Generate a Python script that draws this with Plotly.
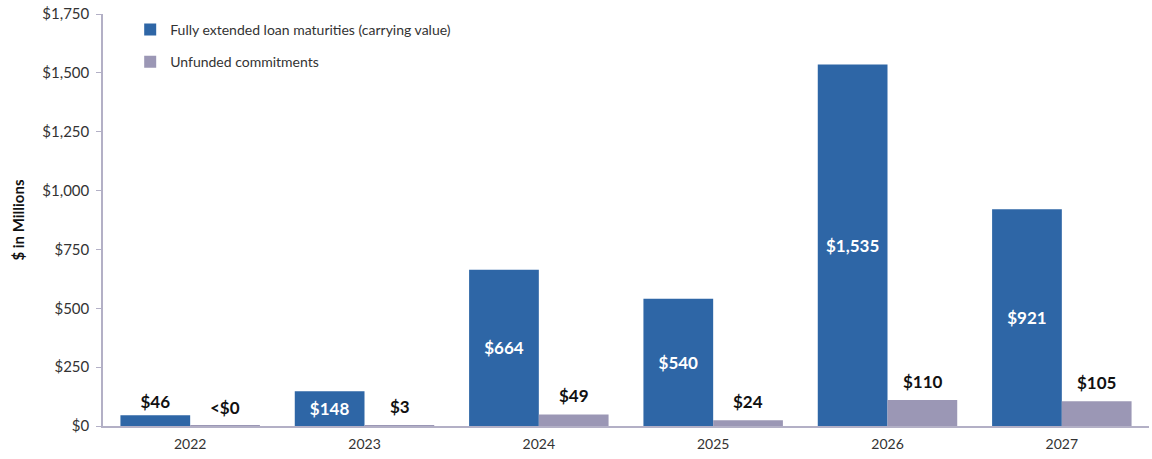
import plotly.graph_objects as go

years = ["2022", "2023", "2024", "2025", "2026", "2027"]
loan_maturities = [46, 148, 664, 540, 1535, 921]
unfunded = [0.2, 3, 49, 24, 110, 105]
loan_labels = ["$46", "$148", "$664", "$540", "$1,535", "$921"]
unfunded_labels = ["<$0", "$3", "$49", "$24", "$110", "$105"]
y_ticks = [0, 250, 500, 750, 1000, 1250, 1500, 1750]
y_tick_labels = ["$0", "$250", "$500", "$750", "$1,000", "$1,250", "$1,500", "$1,750"]

BLUE = "#2E66A6"
GREY = "#9B97B5"
AXIS = "#B3B0C6"
FONT = "Lato"

fig = go.Figure()
fig.add_trace(go.Bar(
    x=years, y=loan_maturities, name="Fully extended loan maturities (carrying value)",
    marker=dict(color=BLUE, line=dict(width=0)),
    text=loan_labels, textposition="auto", insidetextanchor="middle",
    insidetextfont=dict(color="white", size=17, family=FONT, weight="bold"),
    outsidetextfont=dict(color="#111111", size=17, family=FONT, weight="bold"),
    constraintext="none", cliponaxis=False, legendgroup="a",
))
fig.add_trace(go.Bar(
    x=years, y=unfunded, name="Unfunded commitments",
    marker=dict(color=GREY, line=dict(width=0)),
    hoverinfo="skip", legendgroup="b",
))

# labels above the grey bars (x given as category index)
for i, (v, lab) in enumerate(zip(unfunded, unfunded_labels)):
    fig.add_annotation(x=i, y=v, text=lab, showarrow=False, xref="x", yref="y",
                       xshift=35, yanchor="bottom", yshift=6,
                       font=dict(color="#111111", size=17, family=FONT, weight="bold"))

fig.update_layout(
    width=1152, height=459,
    margin=dict(l=103, r=3, t=14, b=33),
    plot_bgcolor="white", paper_bgcolor="white",
    barmode="group", bargap=0.2, bargroupgap=0,
    font=dict(family=FONT, size=14, color="#333333"),
    showlegend=True,
    legend=dict(x=0.026, y=1.0, xanchor="left", yanchor="top",
                font=dict(size=14, color="#333333", family=FONT),
                traceorder="grouped", tracegroupgap=11, itemwidth=30,
                bgcolor="rgba(0,0,0,0)"),
    xaxis=dict(type="category", range=[-0.5, len(years) - 0.5],
               showline=True, linecolor=AXIS, linewidth=1.5, ticks="",
               ticklabelstandoff=4,
               tickfont=dict(size=14, color="#333333", family=FONT), showgrid=False),
    yaxis=dict(range=[0, 1750], tickvals=y_ticks, ticktext=y_tick_labels,
               showline=True, linecolor=AXIS, linewidth=1.5, ticks="outside",
               ticklen=5, tickcolor=AXIS, showgrid=False, zeroline=False,
               ticklabelstandoff=4,
               tickfont=dict(size=15, color="#333333", family=FONT),
               title=dict(text="<b>$ in Millions</b>", standoff=14,
                          font=dict(size=15, color="#111111", family=FONT))),
)

fig.write_html("out.html")
